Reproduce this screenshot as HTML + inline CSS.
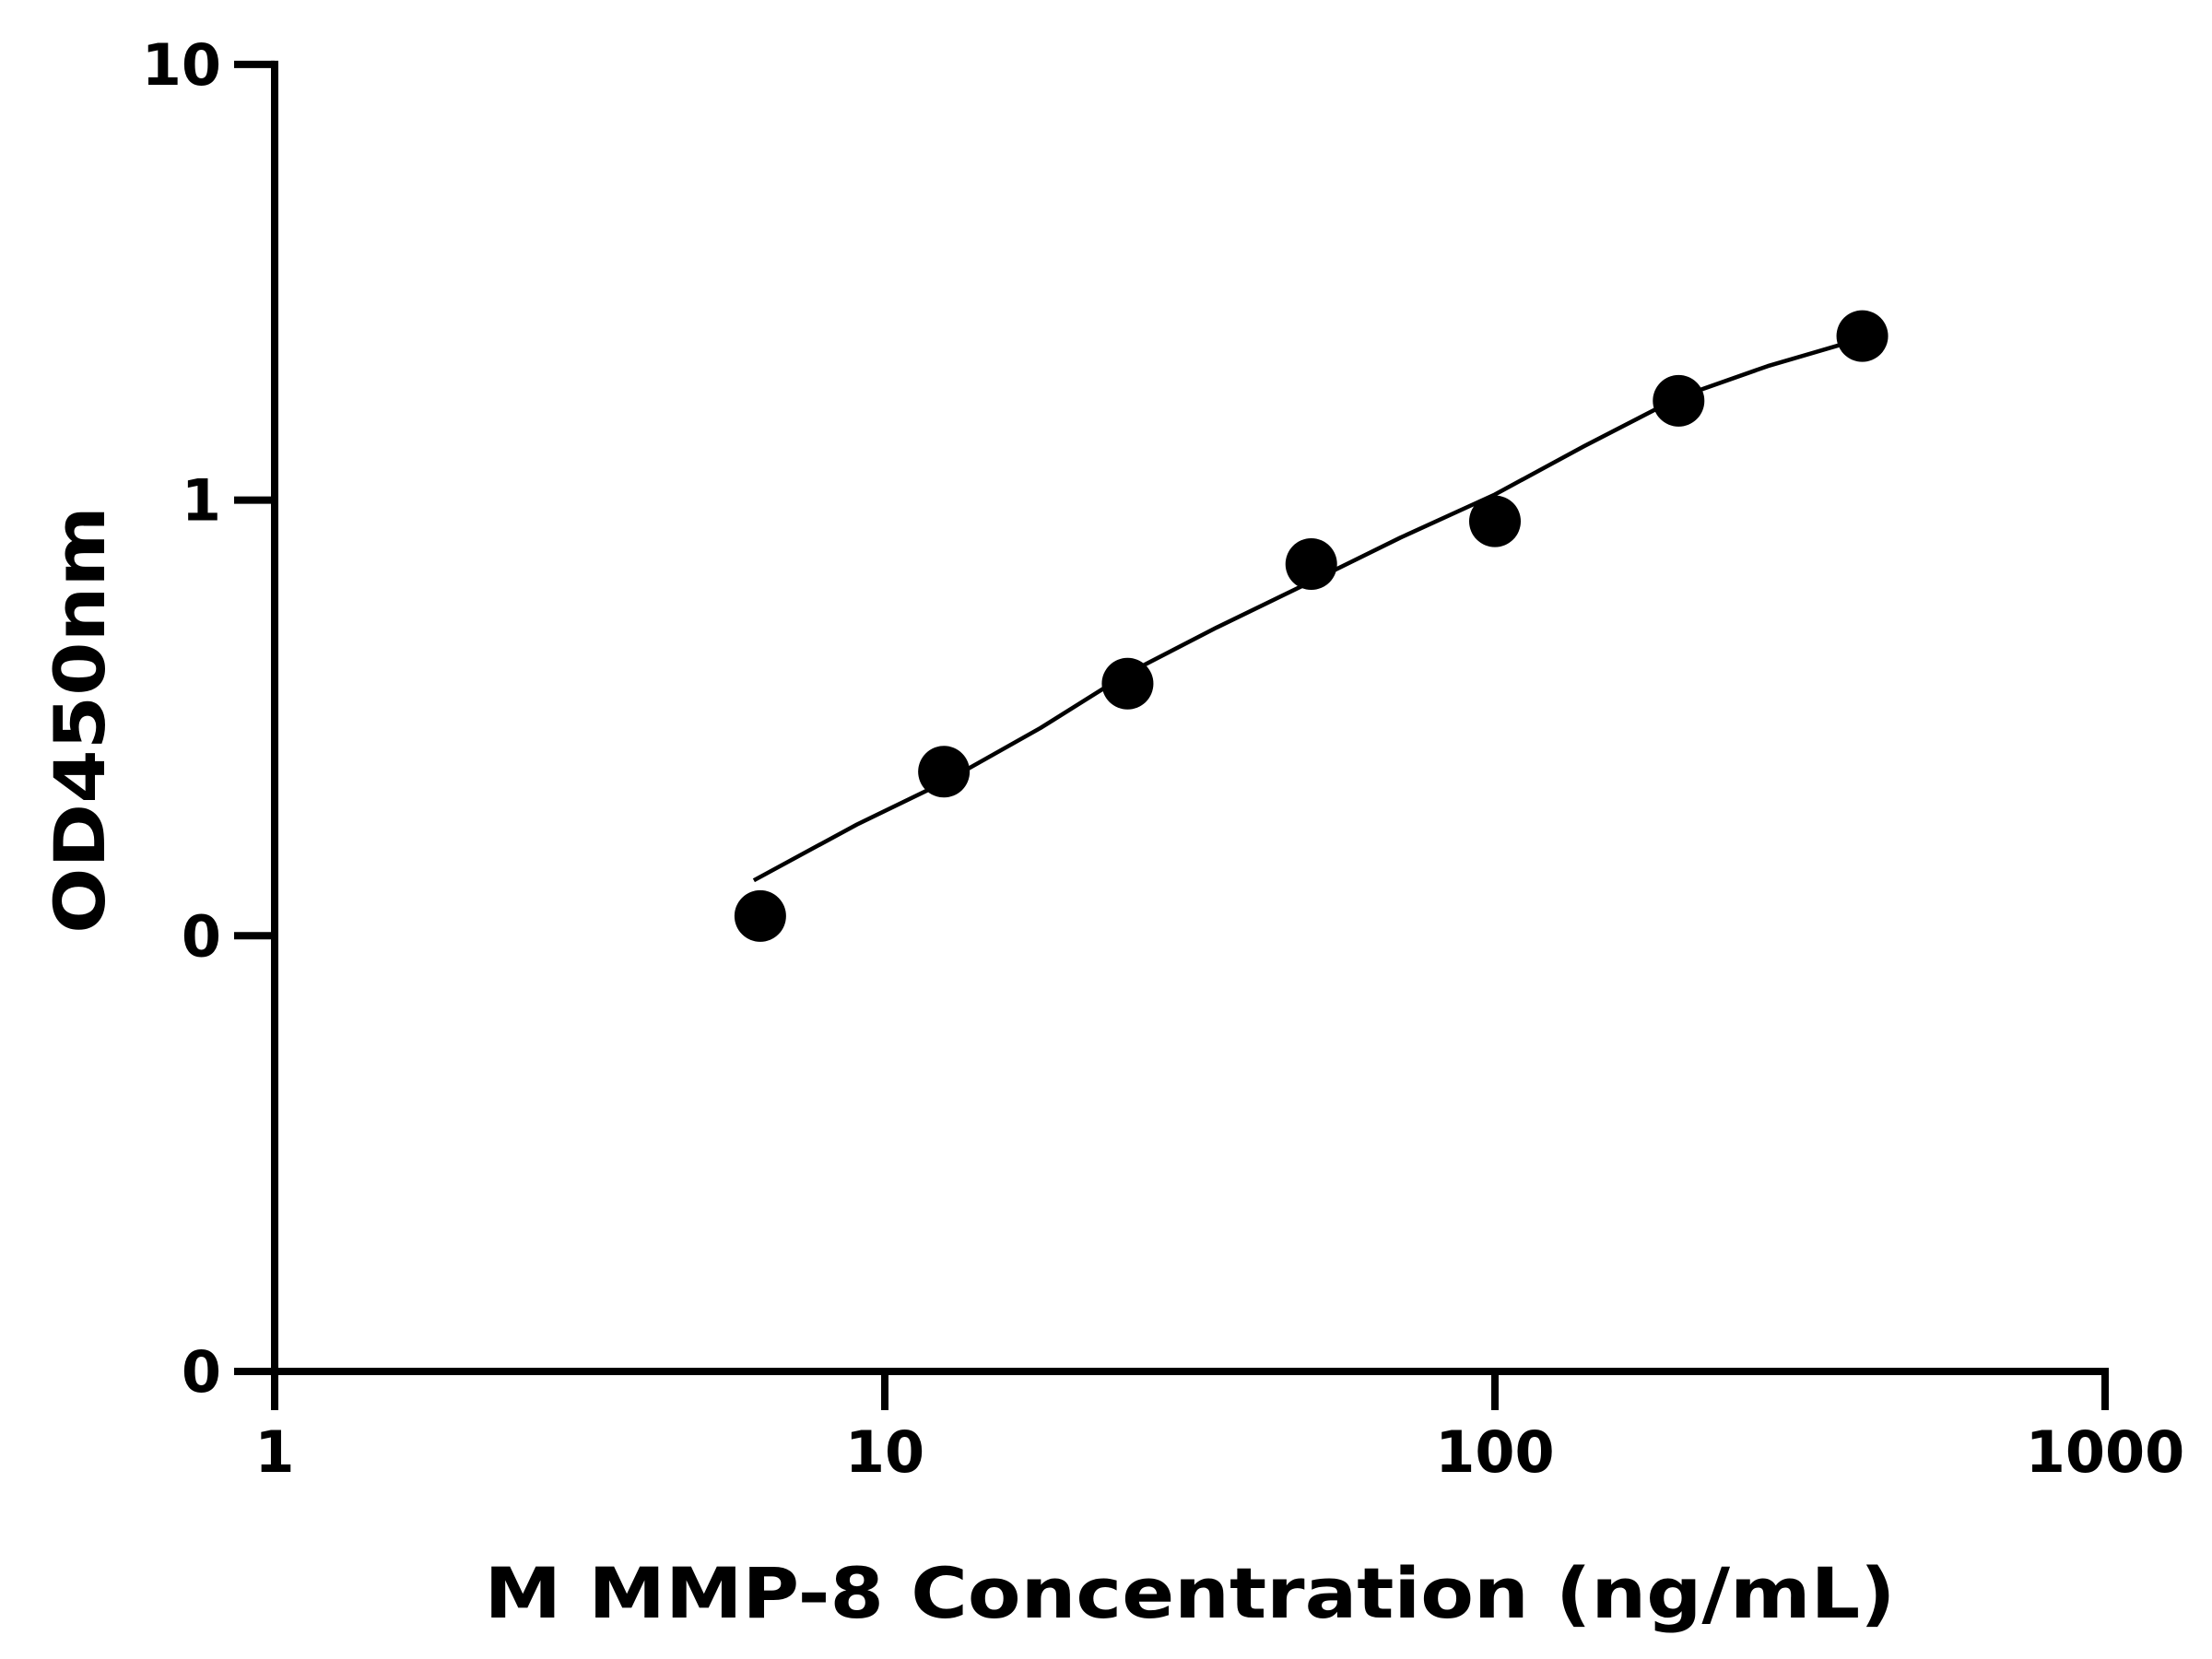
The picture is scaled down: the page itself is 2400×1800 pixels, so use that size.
<!DOCTYPE html>
<html><head><meta charset="utf-8"><style>
html,body{margin:0;padding:0;background:#fff;}
svg{display:block;font-family:"DejaVu Sans","Liberation Sans",sans-serif;font-weight:bold;}
</style></head><body>
<svg id="chart" width="2400" height="1800" viewBox="0 0 2400 1800">
<g id="axes"></g>
<g id="curve"></g>
<g id="points"></g>
<text x="1291" y="1755" text-anchor="middle" font-size="76" textLength="1531" lengthAdjust="spacingAndGlyphs">M MMP-8 Concentration (ng/mL)</text>
<text transform="translate(113,781) rotate(-90)" text-anchor="middle" font-size="76" textLength="464" lengthAdjust="spacingAndGlyphs">OD450nm</text>
</svg>
<script>
const concentrations = [6.25, 12.5, 25, 50, 100, 200, 400];
const odValues = [0.111, 0.238, 0.379, 0.713, 0.894, 1.69, 2.38];
const curveX = [6.1, 9, 12.5, 18, 25, 35, 50, 70, 100, 140, 200, 280, 400];
const curveY = [0.134, 0.18, 0.225, 0.30, 0.40, 0.51, 0.65, 0.82, 1.03, 1.33, 1.72, 2.03, 2.35];
const xTicks = [1, 10, 100, 1000];
const xTickLabels = ["1", "10", "100", "1000"];
const yTicks = [0.01, 0.1, 1, 10];
const yTickLabels = ["0", "0", "1", "10"];

const X0 = 298, XD = 662, Y0 = 1488, YD = 472.7;
const xs = v => X0 + Math.log10(v) * XD;
const ys = v => Y0 - (Math.log10(v) + 2) * YD;
const NS = "http://www.w3.org/2000/svg";
function mk(tag, attrs, parent) {
  const e = document.createElementNS(NS, tag);
  for (const k in attrs) e.setAttribute(k, attrs[k]);
  parent.appendChild(e);
  return e;
}
const axes = document.getElementById('axes');
const yAxis = mk('line', {x1: X0, y1: ys(10) - 4, x2: X0, y2: Y0 + 4, stroke: '#000', 'stroke-width': 8}, axes);


const xAxis = mk('line', {x1: X0 - 4, y1: Y0, x2: xs(1000) + 4, y2: Y0, stroke: '#000', 'stroke-width': 8}, axes);


xTicks.forEach((t, i) => {
  const l = mk('line', {x1: xs(t), y1: Y0, x2: xs(t), y2: Y0 + 42, stroke: '#000', 'stroke-width': 8}, axes);
  
  
  const tx = mk('text', {x: xs(t), y: 1597, 'text-anchor': 'middle', 'font-size': 62}, axes);
  tx.textContent = xTickLabels[i];
  
  
});
yTicks.forEach((t, i) => {
  const l = mk('line', {x1: X0 - 44, y1: ys(t), x2: X0, y2: ys(t), stroke: '#000', 'stroke-width': 8}, axes);
  
  
  const tx = mk('text', {x: 240, y: ys(t) + 22, 'text-anchor': 'end', 'font-size': 62}, axes);
  tx.textContent = yTickLabels[i];
  
  
});
const cg = document.getElementById('curve');
const pts = curveX.map((x, i) => xs(x).toFixed(1) + ',' + ys(curveY[i]).toFixed(1)).join(' ');
const pl = mk('polyline', {points: pts, fill: 'none', stroke: '#000', 'stroke-width': 4.5, 'stroke-linejoin': 'round'}, cg);


const pg = document.getElementById('points');
concentrations.forEach((c, i) => {
  const p = mk('circle', {cx: xs(c), cy: ys(odValues[i]), r: 28, fill: '#000'}, pg);
  
  
});
</script>
</body></html>
